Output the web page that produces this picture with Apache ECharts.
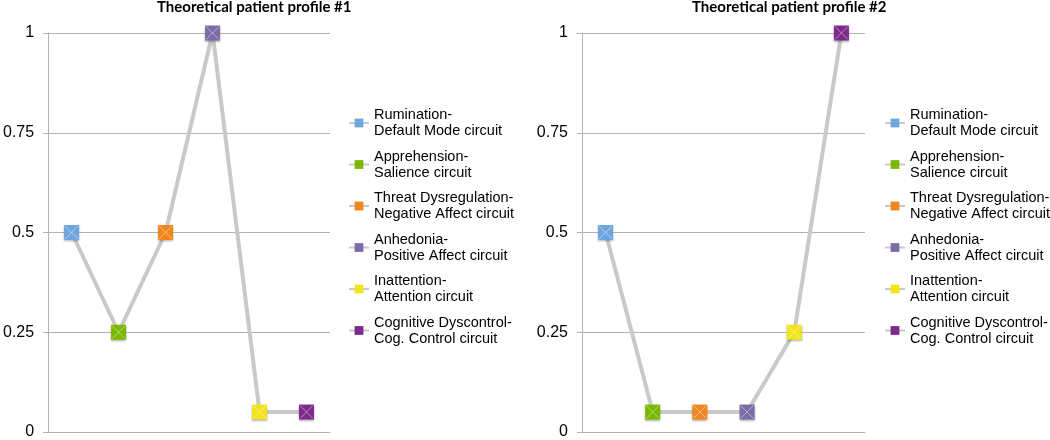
<!DOCTYPE html>
<html>
<head>
<meta charset="utf-8">
<script src="https://cdn.jsdelivr.net/npm/echarts@6/dist/echarts.min.js"></script>
<style>
html,body{margin:0;padding:0;background:#fff;}
#chart{width:1050px;height:440px;}
</style>
</head>
<body>
<div id="chart"></div>
<script>
const categories = [
  'Rumination-\nDefault Mode circuit',
  'Apprehension-\nSalience circuit',
  'Threat Dysregulation-\nNegative Affect circuit',
  'Anhedonia-\nPositive Affect circuit',
  'Inattention-\nAttention circuit',
  'Cognitive Dyscontrol-\nCog. Control circuit'
];
const profile1 = [0.5, 0.25, 0.5, 1, 0.05, 0.05];
const profile2 = [0.5, 0.05, 0.05, 0.05, 0.25, 1];
const titles = ['Theoretical patient profile #1', 'Theoretical patient profile #2'];
const yMin = 0, yMax = 1, yStep = 0.25;

const colors = ['#6fa6de', '#7ab800', '#f2861e', '#7b6ba8', '#f0e41a', '#7d2a8c'];
const lineGray = '#c9c9c9';
const axisGray = '#b3b3b3';
const profiles = [profile1, profile2];
const gridLefts = [47, 582];
const legendLefts = [348, 884];
const titleLefts = [157, 692];

const chart = echarts.init(document.getElementById('chart'), null, {renderer: 'canvas'});

const grids = [], xAxes = [], yAxes = [], series = [], legends = [], titleComps = [];
profiles.forEach((prof, i) => {
  grids.push({left: gridLefts[i], top: 33, width: 283, height: 399, containLabel: false});
  xAxes.push({
    type: 'category', gridIndex: i, data: categories, boundaryGap: true,
    axisLabel: {show: false}, axisTick: {show: false},
    axisLine: {show: true, lineStyle: {color: axisGray, width: 1}},
    splitLine: {show: false}
  });
  yAxes.push({
    type: 'value', gridIndex: i, min: yMin, max: yMax, interval: yStep,
    axisLabel: {fontSize: 16, color: '#000', margin: 14, fontFamily: '"Liberation Sans", Arial, sans-serif'},
    axisTick: {show: true, length: 5, lineStyle: {color: axisGray}},
    axisLine: {show: true, lineStyle: {color: axisGray, width: 1}},
    splitLine: {show: true, lineStyle: {color: axisGray, width: 1}}
  });
  series.push({
    type: 'line', xAxisIndex: i, yAxisIndex: i, data: prof,
    symbol: 'none', silent: true, z: 1,
    lineStyle: {color: lineGray, width: 4}
  });
  categories.forEach((name, k) => {
    series.push({
      type: 'line', name: name, xAxisIndex: i, yAxisIndex: i,
      data: prof.map((v, j) => (j === k ? v : '-')),
      symbol: 'rect', symbolSize: 15, showSymbol: true, z: 3,
      itemStyle: {color: colors[k], shadowBlur: 2, shadowColor: 'rgba(0,0,0,0.3)', shadowOffsetY: 1},
      lineStyle: {color: lineGray, width: 3},
      emphasis: {disabled: true}
    });
  });
  series.push({
    type: 'scatter', xAxisIndex: i, yAxisIndex: i, data: prof, silent: true, z: 4,
    symbol: 'path://M0,0L10,10M10,0L0,10', symbolSize: 13,
    itemStyle: {color: 'transparent', borderColor: 'rgba(255,255,255,0.55)', borderWidth: 1}
  });
  legends.push({
    data: categories, orient: 'vertical', left: legendLefts[i], top: 99, padding: 0,
    itemWidth: 20, itemHeight: 11, itemGap: -6.5, selectedMode: false,
    textStyle: {fontSize: 14.5, lineHeight: 16, color: '#000', fontFamily: '"Liberation Sans", Arial, sans-serif', padding: [16, 0, 0, 0]}
  });
  titleComps.push({
    text: titles[i], left: titleLefts[i], top: 0, padding: 0,
    textStyle: {fontSize: 15, fontWeight: 'bold', color: '#000', fontFamily: 'Lato, sans-serif'}
  });
});

chart.setOption({
  animation: false,
  backgroundColor: '#fff',
  title: titleComps,
  grid: grids,
  xAxis: xAxes,
  yAxis: yAxes,
  legend: legends,
  series: series
});
</script>
</body>
</html>
